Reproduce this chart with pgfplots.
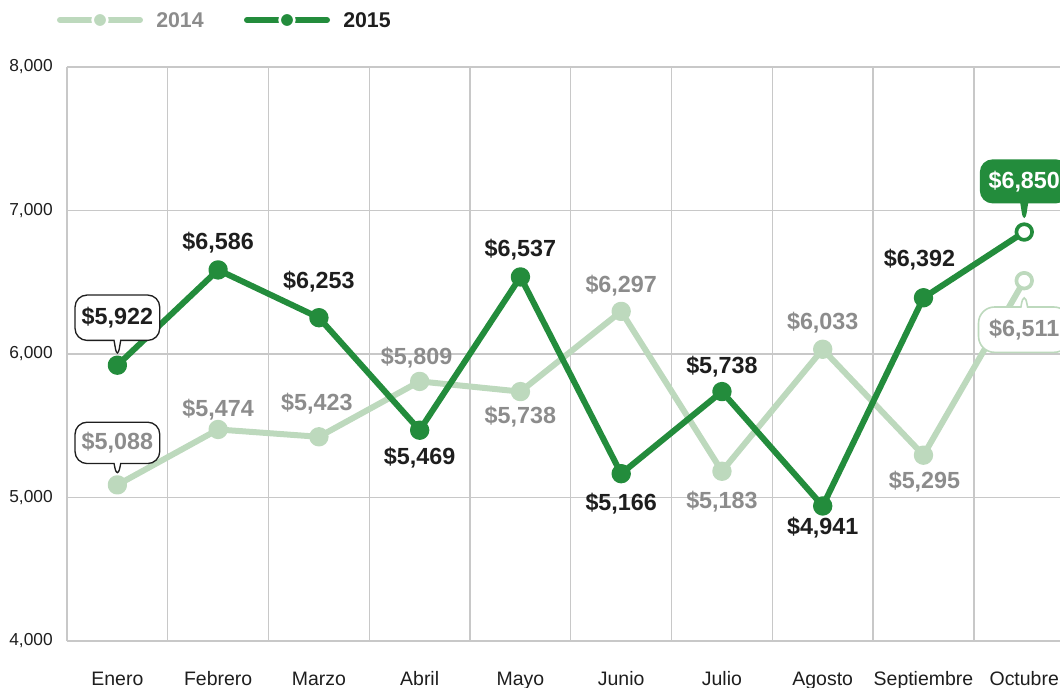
\documentclass[border=0pt]{standalone}
\usepackage{fontspec}
\setmainfont{Liberation Sans}
\usepackage{pgfplots}
\pgfplotsset{compat=1.18}
\usepackage{pgfplotstable}
\usetikzlibrary{shapes.callouts}

\definecolor{dg}{HTML}{238C3C}
\definecolor{lg}{HTML}{BDD9BD}
\definecolor{gt}{HTML}{8C8C8C}
\definecolor{tx}{HTML}{1E1E1E}
\definecolor{gridc}{HTML}{C8C8C8}

% 2014
\pgfplotstableread{
x y dx dy
0 5088 0 0
1 5474 0 20
2 5423 -2 33
3 5809 -3 24
4 5738 0 -25
5 6297 0 26
6 5183 0 -30
7 6033 0 27
8 5295 1 -26
9 6511 0 0
}\tabA
% 2015
\pgfplotstableread{
x y dx dy
0 5922 0 0
1 6586 0 27
2 6253 0 36
3 5469 0 -27
4 6537 0 27
5 5166 0 -30
6 5738 0 25
7 4941 0 -22
8 6392 -4 38
9 6850 0 0
}\tabB

\begin{document}
\begin{tikzpicture}
\begin{axis}[
  at={(0,0)}, anchor=south west,
  scale only axis, width=744.75pt, height=430.5pt,
  xmin=-0.5, xmax=9.355, ymin=4000, ymax=8000,
  xtick={0,...,9},
  xticklabels={Enero,Febrero,Marzo,Abril,Mayo,Junio,Julio,Agosto,Septiembre,Octubre},
  minor xtick={-0.5,0.5,...,8.5},
  ytick={4000,5000,6000,7000,8000},
  xminorgrids=true, ymajorgrids=true, xmajorgrids=false,
  minor grid style={draw=gridc, line width=1pt},
  major grid style={draw=gridc, line width=1pt},
  axis line style={draw=none},
  major tick length=0pt, minor tick length=0pt,
  tick style={draw=none},
  /pgf/number format/1000 sep={,},
  /pgf/number format/assume math mode=true,
  yticklabel style={anchor=east, inner sep=0pt, xshift=-10.5pt, font=\fontsize{13}{13}\selectfont, text=tx},
  xticklabel style={anchor=base, inner sep=0pt, yshift=-33pt, font=\fontsize{14.6}{15}\selectfont, text=tx},
  clip=false,
]
% 2014 line
\addplot[lg, line width=4.5pt, line join=round, mark=*, mark size=5pt, mark options={fill=lg, draw=none}]
  table[x=x,y=y] {\tabA};
\addplot[only marks, mark=*, mark size=5.5pt, mark options={fill=white, draw=lg, line width=2pt},
  skip coords between index={0}{9}] table[x=x,y=y] {\tabA};
% 2015 line
\addplot[dg, line width=4.5pt, line join=round, mark=*, mark size=5pt, mark options={fill=dg, draw=none}]
  table[x=x,y=y] {\tabB};
\addplot[only marks, mark=*, mark size=5.5pt, mark options={fill=white, draw=dg, line width=2pt},
  skip coords between index={0}{1}, skip coords between index={1}{9}] table[x=x,y=y] {\tabB};

% labels 2014
\addplot[draw=none, mark=none, point meta=y,
  nodes near coords={\$\pgfmathprintnumber[fixed,precision=0]{\pgfplotspointmeta}},
  visualization depends on={\thisrow{dx} \as \dx},
  visualization depends on={\thisrow{dy} \as \dy},
  every node near coord/.append style={anchor=center, text=gt, font=\bfseries\fontsize{17.5}{18}\selectfont, xshift={\dx*0.75pt}, yshift={\dy*0.75pt}},
  skip coords between index={0}{1}, skip coords between index={9}{10}]
  table[x=x,y=y] {\tabA};
% labels 2015
\addplot[draw=none, mark=none, point meta=y,
  nodes near coords={\$\pgfmathprintnumber[fixed,precision=0]{\pgfplotspointmeta}},
  visualization depends on={\thisrow{dx} \as \dx},
  visualization depends on={\thisrow{dy} \as \dy},
  every node near coord/.append style={anchor=center, text=tx, font=\bfseries\fontsize{17.5}{18}\selectfont, xshift={\dx*0.75pt}, yshift={\dy*0.75pt}},
  skip coords between index={0}{1}, skip coords between index={9}{10}]
  table[x=x,y=y] {\tabB};

% callouts
\node[rectangle callout, draw=tx, line width=1pt, fill=white, rounded corners=9pt,
  minimum height=34pt, inner xsep=5pt, callout pointer width=5pt,
  callout absolute pointer={([yshift=4pt]axis cs:0,5922)},
  text=tx, font=\bfseries\fontsize{17.5}{18}\selectfont, yshift=35.6pt] at (axis cs:0,5922) {\$5,922};
\node[rectangle callout, draw=tx, line width=1pt, fill=white, rounded corners=9pt,
  minimum height=31pt, inner xsep=5pt, callout pointer width=5pt,
  callout absolute pointer={([yshift=4pt]axis cs:0,5088)},
  text=gt, font=\bfseries\fontsize{17.5}{18}\selectfont, yshift=31.5pt] at (axis cs:0,5088) {\$5,088};
\node[rectangle callout, draw=dg, line width=1pt, fill=dg, rounded corners=9pt,
  minimum height=32pt, inner xsep=6pt, callout pointer width=5pt,
  callout absolute pointer={([yshift=6pt]axis cs:9,6850)},
  text=white, font=\bfseries\fontsize{17.5}{18}\selectfont, yshift=38pt] at (axis cs:9,6850) {\$6,850};
\node[rectangle callout, draw=lg, line width=1.2pt, fill=white, rounded corners=12pt,
  minimum height=34pt, inner xsep=8pt, callout pointer width=5pt,
  callout absolute pointer={([yshift=-6pt]axis cs:9,6511)},
  text=gt, font=\bfseries\fontsize{17.5}{18}\selectfont, yshift=-36.75pt] at (axis cs:9,6511) {\$6,511};
\end{axis}

% legend
\draw[lg, line width=4.5pt, line cap=round] (-5.25pt,465.75pt) -- (54.75pt,465.75pt);
\filldraw[fill=lg, draw=white, line width=2pt] (24.75pt,465.75pt) circle (5.5pt);
\node[anchor=west, inner sep=0pt, text=gt, font=\bfseries\fontsize{16}{16}\selectfont] at (66.75pt,465.75pt) {2014};
\draw[dg, line width=4.5pt, line cap=round] (135pt,465.75pt) -- (195pt,465.75pt);
\filldraw[fill=dg, draw=white, line width=2pt] (165pt,465.75pt) circle (5.5pt);
\node[anchor=west, inner sep=0pt, text=tx, font=\bfseries\fontsize{16}{16}\selectfont] at (207pt,465.75pt) {2015};

\pgfresetboundingbox
\path (-50.25pt,-34.5pt) rectangle (744.75pt,480.75pt);
\end{tikzpicture}
\end{document}
